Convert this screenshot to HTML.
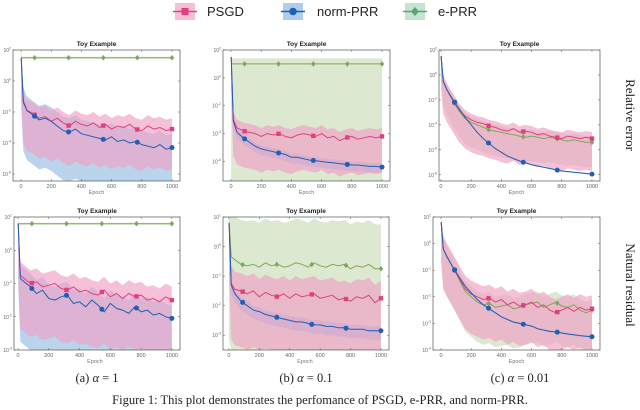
<!DOCTYPE html>
<html><head><meta charset="utf-8">
<style>
body{margin:0;background:#fff;width:640px;height:410px;overflow:hidden}
svg{display:block}
</style></head>
<body>
<svg id="fig" width="640" height="410" viewBox="0 0 640 410" xmlns="http://www.w3.org/2000/svg">
  <g font-family="Liberation Sans, sans-serif" font-size="13" fill="#222">
    <g>
      <rect x="175" y="3" width="20" height="17" fill="#f3b0cc" opacity="0.8"/>
      <line x1="173" y1="11.5" x2="197" y2="11.5" stroke="#e0407f" stroke-width="1.5"/>
      <rect x="181.5" y="8" width="7" height="7" fill="#e0407f"/>
      <text x="207" y="16">PSGD</text>
    </g>
    <g>
      <rect x="283" y="3" width="20" height="17" fill="#9cc0e4" opacity="0.8"/>
      <line x1="281" y1="11.5" x2="305" y2="11.5" stroke="#1f5fb5" stroke-width="1.5"/>
      <circle cx="293" cy="11.5" r="3.8" fill="#1f5fb5"/>
      <text x="317" y="16">norm-PRR</text>
    </g>
    <g>
      <rect x="405" y="3" width="20" height="17" fill="#b9dcc4" opacity="0.8"/>
      <line x1="403" y1="11.5" x2="427" y2="11.5" stroke="#5aa574" stroke-width="1.5"/>
      <path d="M415 7 L419 11.5 L415 16 L411 11.5Z" fill="#5aa574"/>
      <text x="438" y="16">e-PRR</text>
    </g>
  </g>
  <g id="panels"></g>
  <g font-family="Liberation Serif, serif" font-size="13" fill="#222">
    <text transform="translate(626,115) rotate(90)" text-anchor="middle">Relative error</text>
    <text transform="translate(626,285) rotate(90)" text-anchor="middle">Natural residual</text>
    <text x="97" y="382" text-anchor="middle" font-size="12.5">(a) <tspan font-style="italic">α</tspan> = 1</text>
    <text x="306" y="382" text-anchor="middle" font-size="12.5">(b) <tspan font-style="italic">α</tspan> = 0.1</text>
    <text x="520" y="382" text-anchor="middle" font-size="12.5">(c) <tspan font-style="italic">α</tspan> = 0.01</text>
    <text x="320" y="404" text-anchor="middle" font-size="12.5">Figure 1: This plot demonstrates the perfomance of PSGD, e-PRR, and norm-PRR.</text>
  </g>
</svg>
<script>
const epochs = [1,15,40,80,120,160,200,240,280,320,360,400,440,480,520,560,600,640,680,720,760,800,840,880,920,960,1000];
const xTicks = [0,200,400,600,800,1000];
const markerEpochs = [90,315,545,770,1000];
// log10 values
const a1_psgd = [1.5,-1.4,-1.9,-2.1,-2.4,-2.3,-2.6,-2.4,-2.7,-2.9,-2.6,-2.8,-2.9,-2.7,-3.0,-2.8,-3.1,-2.9,-3.0,-2.8,-3.1,-3.2,-2.9,-3.1,-3.0,-3.2,-3.1];
const a1_norm = [1.5,-1.3,-1.9,-2.2,-2.5,-2.4,-2.6,-2.9,-3.2,-3.3,-3.1,-3.4,-3.5,-3.6,-3.7,-3.8,-3.6,-3.9,-3.8,-4.0,-3.9,-4.1,-4.2,-4.3,-4.1,-4.4,-4.3];
const a1_eprr = [1.5,1.5,1.5,1.5,1.5,1.5,1.5,1.5,1.5,1.5,1.5,1.5,1.5,1.5,1.5,1.5,1.5,1.5,1.5,1.5,1.5,1.5,1.5,1.5,1.5,1.5,1.5];
const b1_psgd = [1.5,-3.0,-3.6,-3.8,-3.9,-4.0,-4.2,-4.0,-4.1,-4.0,-4.2,-4.3,-4.1,-4.0,-4.1,-4.2,-4.0,-4.3,-4.2,-4.5,-4.3,-4.2,-4.4,-4.3,-4.2,-4.3,-4.2];
const b1_norm = [1.5,-3.1,-3.9,-4.3,-4.6,-4.9,-5.1,-5.2,-5.3,-5.4,-5.5,-5.7,-5.7,-5.8,-5.9,-5.95,-6.0,-6.05,-6.1,-6.15,-6.2,-6.25,-6.25,-6.3,-6.35,-6.35,-6.4];
const b1_eprr = [1.0,1.0,1.0,1.0,1.0,1.0,1.0,1.0,1.0,1.0,1.0,1.0,1.0,1.0,1.0,1.0,1.0,1.0,1.0,1.0,1.0,1.0,1.0,1.0,1.0,1.0,1.0];
const c1_psgd = [1.5,-0.5,-1.2,-2.0,-2.8,-3.3,-3.6,-3.8,-3.9,-4.1,-4.2,-4.4,-4.5,-4.3,-4.6,-4.5,-4.6,-4.8,-4.7,-4.9,-5.0,-5.1,-4.9,-5.0,-5.1,-5.0,-5.1];
const c1_norm = [1.5,-0.5,-1.2,-2.0,-2.7,-3.4,-4.0,-4.6,-5.1,-5.5,-5.9,-6.2,-6.5,-6.7,-6.9,-7.05,-7.2,-7.3,-7.4,-7.5,-7.6,-7.7,-7.75,-7.8,-7.85,-7.9,-7.95];
const c1_eprr = [1.5,-0.5,-1.2,-2.1,-2.9,-3.5,-3.8,-4.0,-4.2,-4.4,-4.5,-4.6,-4.7,-4.8,-4.9,-5.0,-4.9,-5.0,-5.1,-5.0,-5.1,-5.2,-5.3,-5.2,-5.3,-5.4,-5.4];
const a2_psgd = [0.8,-0.75,-0.85,-1.0,-0.95,-1.1,-1.05,-1.0,-1.15,-1.2,-1.1,-1.25,-1.2,-1.3,-1.35,-1.2,-1.4,-1.3,-1.45,-1.3,-1.4,-1.35,-1.5,-1.45,-1.55,-1.4,-1.5];
const a2_norm = [0.8,-0.85,-0.95,-1.1,-1.3,-1.2,-1.45,-1.5,-1.4,-1.35,-1.6,-1.55,-1.7,-1.5,-1.65,-1.85,-1.6,-1.75,-1.8,-1.9,-1.7,-1.85,-1.8,-1.95,-1.9,-2.0,-2.05];
const a2_eprr = [0.8,0.8,0.8,0.8,0.8,0.8,0.8,0.8,0.8,0.8,0.8,0.8,0.8,0.8,0.8,0.8,0.8,0.8,0.8,0.8,0.8,0.8,0.8,0.8,0.8,0.8,0.8];
const b2_psgd = [0.8,-1.25,-1.45,-1.5,-1.6,-1.5,-1.7,-1.55,-1.65,-1.7,-1.6,-1.75,-1.6,-1.7,-1.65,-1.6,-1.75,-1.7,-1.65,-1.8,-1.75,-1.85,-1.7,-1.75,-1.65,-1.9,-1.75];
const b2_norm = [0.8,-1.3,-1.6,-1.85,-2.0,-2.15,-2.2,-2.3,-2.35,-2.4,-2.45,-2.5,-2.55,-2.55,-2.6,-2.65,-2.65,-2.7,-2.7,-2.75,-2.75,-2.8,-2.8,-2.8,-2.85,-2.85,-2.85];
const b2_eprr = [0.8,-0.35,-0.45,-0.6,-0.65,-0.6,-0.7,-0.55,-0.65,-0.6,-0.7,-0.65,-0.55,-0.6,-0.7,-0.55,-0.65,-0.7,-0.6,-0.65,-0.6,-0.75,-0.65,-0.7,-0.6,-0.75,-0.75];
const c2_psgd = [0.8,-0.2,-0.5,-0.9,-1.3,-1.7,-1.9,-2.0,-2.1,-2.05,-2.2,-2.1,-2.3,-2.2,-2.35,-2.3,-2.2,-2.4,-2.3,-2.5,-2.6,-2.5,-2.4,-2.55,-2.4,-2.5,-2.45];
const c2_norm = [0.8,-0.2,-0.5,-0.9,-1.25,-1.6,-1.85,-2.1,-2.3,-2.45,-2.6,-2.75,-2.85,-2.95,-3.0,-3.05,-3.1,-3.2,-3.25,-3.3,-3.32,-3.36,-3.4,-3.43,-3.46,-3.48,-3.5];
const c2_eprr = [0.8,-0.2,-0.5,-0.9,-1.35,-1.8,-2.0,-2.2,-2.3,-2.25,-2.4,-2.35,-2.3,-2.45,-2.4,-2.3,-2.25,-2.2,-2.4,-2.3,-2.2,-2.35,-2.4,-2.3,-2.5,-2.6,-2.5];
// band [upper offset, lower offset] in decades, per series: psgd, norm, eprr
const a1_bands = [[0.7,-2.6],[0.9,-3.2],[0.06,-0.06]];
const b1_bands = [[0.6,-2.6],[0.25,-0.45],[0.4,-9]];
const c1_bands = [[0.5,-2.6],[0.05,-0.05],[0.5,-2.0]];
const a2_bands = [[0.4,-1.6],[0.4,-1.9],[0.03,-0.03]];
const b2_bands = [[0.6,-1.9],[0.15,-0.3],[1.5,-4]];
const c2_bands = [[0.5,-1.5],[0.04,-0.04],[0.4,-1.5]];

const panels = [
 {id:'a1',x0:13,x1:180,y0:50,y1:181,ymax:2,ymin:-6.45,xmin:-53,yt:[2,0,-2,-4,-6],d:[a1_psgd,a1_norm,a1_eprr],b:a1_bands,ty:46},
 {id:'b1',x0:223,x1:390,y0:50,y1:181,ymax:2,ymin:-7.4,xmin:-53,yt:[2,0,-2,-4,-6],d:[b1_psgd,b1_norm,b1_eprr],b:b1_bands,ty:46},
 {id:'c1',x0:439,x1:600,y0:50,y1:181,ymax:2,ymin:-8.5,xmin:-13,yt:[2,0,-2,-4,-6,-8],d:[c1_psgd,c1_norm,c1_eprr],b:c1_bands,ty:46},
 {id:'a2',x0:14,x1:180,y0:217,y1:350,ymax:1,ymin:-3,xmin:-26,yt:[1,0,-1,-2,-3],d:[a2_psgd,a2_norm,a2_eprr],b:a2_bands,ty:213},
 {id:'b2',x0:223,x1:389,y0:217,y1:350,ymax:1,ymin:-3.5,xmin:-39,yt:[1,0,-1,-2,-3],d:[b2_psgd,b2_norm,b2_eprr],b:b2_bands,ty:213},
 {id:'c2',x0:433,x1:600,y0:217,y1:350,ymax:1,ymin:-4,xmin:-53,yt:[1,0,-1,-2,-3,-4],d:[c2_psgd,c2_norm,c2_eprr],b:c2_bands,ty:213}
];
const names=['psgd','norm-prr','e-prr'];
const lineC=['#e0407f','#1f5fb5','#7fa85a'];
const bandC=['#f0a0c4','#8cb8e0','#c5d9b0'];
const bandO=[0.65,0.6,0.6];
const NS='http://www.w3.org/2000/svg';
const root=document.getElementById('panels');
function mk(tag,attrs,parent){const e=document.createElementNS(NS,tag);for(const k in attrs)e.setAttribute(k,attrs[k]);parent.appendChild(e);return e;}

panels.forEach(p=>{
  const g=mk('g',{},root);
  
  
  const xmax=1053;
  const X=v=>p.x0+(v-p.xmin)/(xmax-p.xmin)*(p.x1-p.x0);
  const Y=v=>{const c=Math.max(p.ymin,Math.min(p.ymax,v));return p.y0+(p.ymax-c)/(p.ymax-p.ymin)*(p.y1-p.y0);};
  const clipId='clip'+p.id;
  const cp=mk('clipPath',{id:clipId},g);
  mk('rect',{x:p.x0,y:p.y0,width:p.x1-p.x0,height:p.y1-p.y0},cp);
  const plot=mk('g',{'clip-path':'url(#'+clipId+')'},g);
  [2,1,0].forEach(s=>{
    const d=p.d[s],b=p.b[s];
    let pts=epochs.map((e,i)=>X(e).toFixed(1)+','+Y(d[i]+b[0]).toFixed(1));
    for(let i=epochs.length-1;i>=0;i--)pts.push(X(epochs[i]).toFixed(1)+','+Y(d[i]+b[1]).toFixed(1));
    const band=mk('polygon',{points:pts.join(' '),fill:bandC[s],opacity:bandO[s]},plot);
    
    
  });
  [2,0,1].forEach(s=>{
    const d=p.d[s];
    const ln=mk('polyline',{points:epochs.map((e,i)=>X(e).toFixed(1)+','+Y(d[i]).toFixed(1)).join(' '),fill:'none',stroke:lineC[s],'stroke-width':1},plot);
    
    
    markerEpochs.forEach(me=>{
      let i=1;while(i<epochs.length-1&&epochs[i]<me)i++;
      const t=(me-epochs[i-1])/(epochs[i]-epochs[i-1]);
      const v=d[i-1]+(d[i]-d[i-1])*t;
      const cx=X(me),cy=Y(v);let m;
      if(s===0)m=mk('rect',{x:cx-2.2,y:cy-2.2,width:4.4,height:4.4,fill:lineC[s]},plot);
      else if(s===1)m=mk('circle',{cx:cx,cy:cy,r:2.5,fill:lineC[s]},plot);
      else m=mk('path',{d:`M${cx} ${cy-2.8}L${cx+2.3} ${cy}L${cx} ${cy+2.8}L${cx-2.3} ${cy}Z`,fill:lineC[s]},plot);
      
      
    });
  });
  const box=mk('rect',{x:p.x0,y:p.y0,width:p.x1-p.x0,height:p.y1-p.y0,fill:'none',stroke:'#555','stroke-width':0.7},g);
  
  
  xTicks.forEach(t=>{
    const x=X(t);
    mk('line',{x1:x,x2:x,y1:p.y1,y2:p.y1-2,stroke:'#555','stroke-width':0.5},g);
    mk('line',{x1:x,x2:x,y1:p.y0,y2:p.y0+2,stroke:'#555','stroke-width':0.5},g);
    const tl=mk('text',{x:x,y:p.y1+7,'text-anchor':'middle','font-size':5.5,fill:'#666','font-family':'Liberation Sans, sans-serif'},g);
    tl.textContent=t;
    
    
  });
  p.yt.forEach(t=>{
    const y=Y(t);
    mk('line',{x1:p.x0,x2:p.x0+2,y1:y,y2:y,stroke:'#555','stroke-width':0.5},g);
    mk('line',{x1:p.x1,x2:p.x1-2,y1:y,y2:y,stroke:'#555','stroke-width':0.5},g);
    const tl=mk('text',{x:p.x0-2,y:y+2,'text-anchor':'end','font-size':5,fill:'#666','font-family':'Liberation Sans, sans-serif'},g);
    tl.innerHTML='10<tspan dy="-2.5" font-size="3.5">'+t+'</tspan>';
    
    
  });
  const xl=mk('text',{x:(X(0)+X(1000))/2,y:p.y1+13,'text-anchor':'middle','font-size':5.5,fill:'#777','font-family':'Liberation Sans, sans-serif'},g);
  xl.textContent='Epoch';
  
  
  const tt=mk('text',{x:(p.x0+p.x1)/2,y:p.ty,'text-anchor':'middle','font-size':6.5,'font-weight':'bold',fill:'#222','font-family':'Liberation Sans, sans-serif'},g);
  tt.textContent='Toy Example';
  
  
});
</script>
</body></html>
